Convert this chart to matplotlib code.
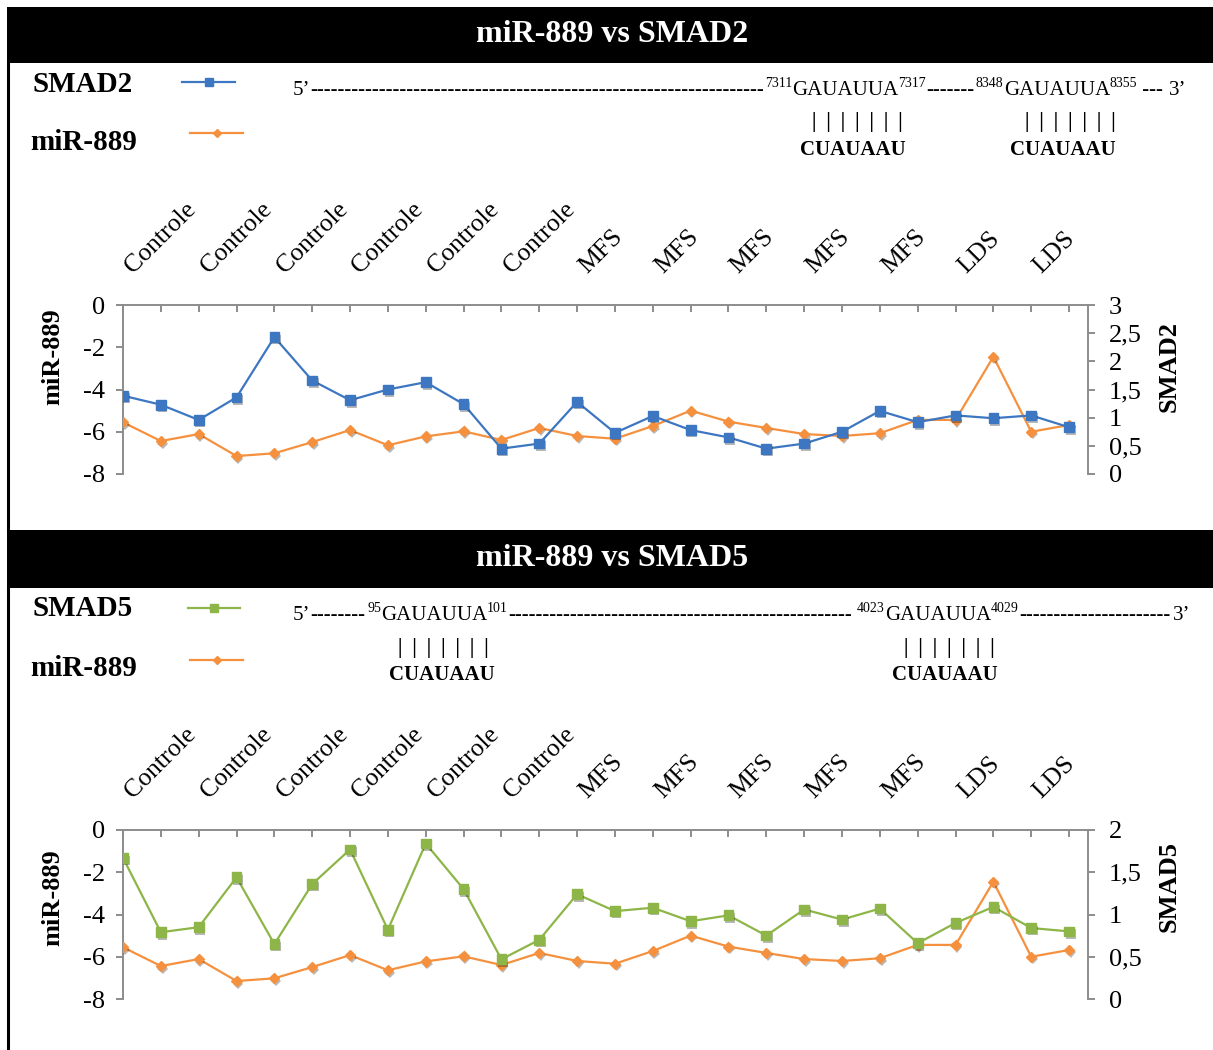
import matplotlib
matplotlib.use("Agg")
import matplotlib.pyplot as plt
import matplotlib.patheffects as pe
import matplotlib.transforms as mtransforms
from matplotlib.patches import Rectangle
from matplotlib.lines import Line2D

# ---------------------------------------------------------------- data
samples = ["Controle"] * 12 + ["MFS"] * 10 + ["LDS"] * 4

mir889 = [-5.55, -6.44, -6.11, -7.15, -7.02, -6.49, -5.92, -6.64, -6.22, -5.98,
          -6.39, -5.82, -6.20, -6.33, -5.73, -5.00, -5.52, -5.82, -6.11, -6.20,
          -6.07, -5.44, -5.44, -2.45, -6.00, -5.68]
smad2 = [1.39, 1.23, 0.96, 1.36, 2.43, 1.66, 1.31, 1.50, 1.63, 1.24,
         0.45, 0.54, 1.28, 0.73, 1.03, 0.78, 0.65, 0.45, 0.54, 0.75,
         1.12, 0.92, 1.04, 0.99, 1.04, 0.83]
smad5 = [1.67, 0.79, 0.85, 1.44, 0.65, 1.36, 1.77, 0.82, 1.84, 1.30,
         0.47, 0.70, 1.24, 1.04, 1.08, 0.92, 0.99, 0.75, 1.06, 0.94,
         1.07, 0.66, 0.90, 1.09, 0.84, 0.80]

left_ticks = [-8, -6, -4, -2, 0]
left_labels = ["-8", "-6", "-4", "-2", "0"]
smad2_ticks = [0, 0.5, 1, 1.5, 2, 2.5, 3]
smad2_labels = ["0", "0,5", "1", "1,5", "2", "2,5", "3"]
smad5_ticks = [0, 0.5, 1, 1.5, 2]
smad5_labels = ["0", "0,5", "1", "1,5", "2"]

# ---------------------------------------------------------------- style
W, H, DPI = 1213, 1050, 100
SERIF = "Liberation Serif"
GRAY = "#8c8c8c"
BLUE = "#3d77c1"
ORANGE = "#f5913e"
GREEN = "#8db547"

plt.rcParams["font.family"] = [SERIF, "DejaVu Serif"]

fig = plt.figure(figsize=(W / DPI, H / DPI), dpi=DPI)
fig.patch.set_facecolor("white")


def fx(x):
    return x / W


def fy(y):
    return 1 - y / H


def shadow():
    return [pe.SimplePatchShadow(offset=(1.2, -1.8), shadow_rgbFace="black", alpha=0.28),
            pe.Normal()]


def draw_panel(top_px, gene_vals, gene_name, gene_color, gene_marker,
               gene_ticks, gene_labels, gene_max, ylab_y, rlab_y):
    left, right = 123, 1088
    height = 169
    ax = fig.add_axes([fx(left), fy(top_px + height), fx(right - left), height / H])
    ax2 = ax.twinx()
    x = list(range(len(samples)))

    # miR-889 on the left axis
    ax.plot(x, mir889, color=ORANGE, lw=1.6, zorder=2)
    ax.plot(x, mir889, ls="none", marker="D", ms=5.2, color=ORANGE,
            path_effects=shadow(), zorder=3)
    # target gene on the right axis
    ax2.plot(x, gene_vals, color=gene_color, lw=1.6, zorder=2)
    ax2.plot(x, gene_vals, ls="none", marker=gene_marker, ms=7, color=gene_color,
             path_effects=shadow(), zorder=3)

    ax.set_xlim(0, len(samples) - 0.5)
    ax.set_ylim(-8, 0)
    ax2.set_ylim(0, gene_max)

    for a in (ax, ax2):
        for s in a.spines.values():
            s.set_visible(False)
            s.set_color(GRAY)
            s.set_linewidth(1.4)
        a.patch.set_visible(False)
    ax.spines["top"].set_visible(True)
    ax.spines["left"].set_visible(True)
    ax2.spines["right"].set_visible(True)

    ax.set_yticks(left_ticks)
    ax.set_yticklabels(left_labels)
    ax.tick_params(axis="y", direction="out", length=5, width=1.4, color=GRAY,
                   labelsize=19, pad=8)
    ax2.set_yticks(gene_ticks)
    ax2.set_yticklabels(gene_labels)
    ax2.tick_params(axis="y", direction="out", length=5, width=1.4, color=GRAY,
                    labelsize=19, pad=10)

    # category axis along the top, ticks pointing inwards
    ax.set_xticks(x)
    ax.tick_params(axis="x", top=True, bottom=False, labeltop=False, labelbottom=False,
                   direction="in", length=5, width=1.4, color=GRAY)
    # every second sample is labelled, text slanted upwards from the axis
    lab_tr = (mtransforms.blended_transform_factory(ax.transData, ax.transAxes)
              + mtransforms.ScaledTranslation(6 / DPI, 35 / DPI, fig.dpi_scale_trans))
    for i, s in enumerate(samples):
        if i % 2 == 0:
            ax.text(i, 1, s, transform=lab_tr, rotation=45, rotation_mode="anchor",
                    ha="left", va="center", fontsize=18.5, clip_on=False)

    fig.text(fx(53), fy(ylab_y), "miR-889", rotation=90, fontsize=19,
             fontweight="bold", ha="center", va="center")
    fig.text(fx(1169), fy(rlab_y), gene_name, rotation=90, fontsize=19,
             fontweight="bold", ha="center", va="center")
    return ax


def title_bar(y0, y1, title):
    fig.add_artist(Rectangle((fx(7), fy(y1)), fx(W - 7), (y1 - y0) / H,
                             transform=fig.transFigure, color="black", lw=0))
    fig.text(fx(612), fy((y0 + y1) / 2), title, color="white", fontsize=23,
             fontweight="bold", ha="center", va="center")


def legend_key(x0, x1, y, color, marker, ms):
    fig.add_artist(Line2D([fx(x0), fx(x1)], [fy(y), fy(y)], transform=fig.transFigure,
                          color=color, lw=1.6))
    fig.add_artist(Line2D([fx((x0 + x1) / 2)], [fy(y)], transform=fig.transFigure,
                          color=color, marker=marker, ms=ms, ls="none"))


# ---------------------------------------------------------------- frame
title_bar(7, 63, "miR-889 vs SMAD2")
title_bar(530, 588, "miR-889 vs SMAD5")
for y0, y1 in ((63, 530), (588, 1050)):
    fig.add_artist(Line2D([fx(8), fx(8)], [fy(y0), fy(y1)], transform=fig.transFigure,
                          color="black", lw=2.2))

# ---------------------------------------------------------------- panels
draw_panel(305, smad2, "SMAD2", BLUE, "s", smad2_ticks, smad2_labels, 3, 357, 367)
draw_panel(830, smad5, "SMAD5", GREEN, "s", smad5_ticks, smad5_labels, 2, 898, 886)

# ---------------------------------------------------------------- legends
fig.text(fx(33), fy(84), "SMAD2", fontsize=21, fontweight="bold", ha="left", va="center")
fig.text(fx(30), fy(143), "miR-889", fontsize=21, fontweight="bold", ha="left", va="center")
legend_key(182, 235, 82, BLUE, "s", 5.5)
legend_key(190, 243, 133, ORANGE, "D", 4)

fig.text(fx(33), fy(609), "SMAD5", fontsize=21, fontweight="bold", ha="left", va="center")
fig.text(fx(30), fy(668), "miR-889", fontsize=21, fontweight="bold", ha="left", va="center")
legend_key(188, 240, 608, GREEN, "s", 5.5)
legend_key(190, 243, 660, ORANGE, "D", 4)

# ---------------------------------------------------------------- binding sites
fig.canvas.draw()
renderer = fig.canvas.get_renderer()


def text_at(x, base_y, s, kind):
    if kind == "sup":
        return fig.text(fx(x), fy(base_y - 8), s, fontsize=10, ha="left", va="baseline")
    if kind == "bold":
        return fig.text(fx(x), fy(base_y), s, fontsize=15, fontweight="bold",
                        ha="left", va="baseline")
    return fig.text(fx(x), fy(base_y), s, fontsize=15, ha="left", va="baseline")


def char_width(ch, kind):
    t = text_at(0, 0, ch * 20, kind)
    w = t.get_window_extent(renderer).width / 20
    t.remove()
    return w


def sequence_line(base_y, parts):
    x = None
    for i, (s, kind, x_fix) in enumerate(parts):
        if x_fix is not None:
            x = x_fix
        if s == "FILL":
            target = next(p[2] for p in parts[i + 1:] if p[2] is not None)
            w = char_width("-", kind)
            n = max(1, int(round((target - 2 - x) / w)))
            s = "-" * n
        t = text_at(x, base_y, s, kind)
        x = t.get_window_extent(renderer).x1


sequence_line(95, [("5\u2019", "n", 293), ("FILL", "n", None),
                   ("7311", "sup", 765), ("GAUAUUA", "n", None), ("7317", "sup", None),
                   ("FILL", "n", None),
                   ("8348", "sup", 976), ("GAUAUUA", "n", None), ("8355", "sup", None),
                   (" --- ", "n", None), ("3\u2019", "n", None)])
sequence_line(620, [("5\u2019", "n", 293), ("FILL", "n", None),
                    ("95", "sup", 367), ("GAUAUUA", "n", None), ("101", "sup", None),
                    ("FILL", "n", None),
                    ("4023", "sup", 857), ("GAUAUUA", "n", None), ("4029", "sup", None),
                    ("FILL", "bold", None), ("3\u2019", "n", 1173)])

pairs = "|  |  |  |  |  |  |"
for cx, y_bar in ((857, 122), (1070, 122), (443, 648), (949, 648)):
    fig.text(fx(cx), fy(y_bar), pairs, fontsize=14.5, fontweight="bold",
             ha="center", va="center")
for cx, y_seed in ((853, 150), (1063, 150), (442, 675), (945, 675)):
    fig.text(fx(cx), fy(y_seed), "CUAUAAU", fontsize=15, fontweight="bold",
             ha="center", va="center")

fig.savefig("out.png", dpi=DPI, facecolor="white")
